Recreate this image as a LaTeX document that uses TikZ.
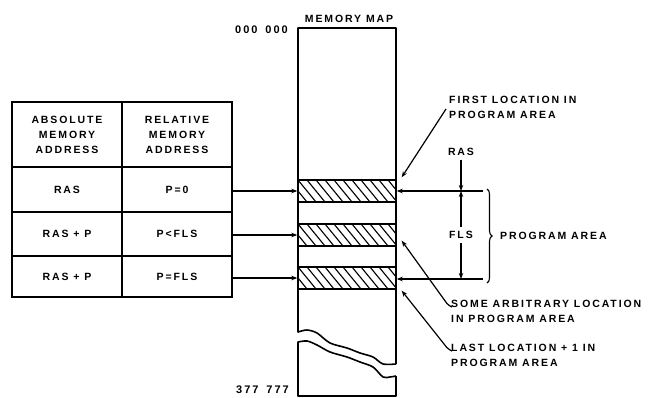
\documentclass[tikz,border=0pt]{standalone}
\usepackage{fontspec}
\setmainfont{Liberation Sans}[LetterSpace=18]
\usetikzlibrary{arrows.meta,decorations.pathreplacing}
\begin{document}
\begin{tikzpicture}[x=1pt,y=-1pt,
  font=\fontsize{10.5}{15}\selectfont\bfseries,
  mapline/.style={line width=1.6pt, line join=round},
  cell/.style={draw, line width=1.3pt, minimum width=110pt, inner sep=0pt, align=center},
  band/.style={draw, line width=1.4pt, minimum width=98pt, minimum height=22pt, inner sep=0pt},
  conn/.style={line width=1.2pt, -{Stealth[length=6pt,width=4.5pt]}},
  hatch/.style={line width=1.1pt},
  lbl/.style={align=left, anchor=north west, inner sep=0pt},
  addr/.style={anchor=east, inner sep=0pt, font=\fontsize{11}{13}\selectfont\bfseries},
  dimlbl/.style={inner sep=4pt},
  bracestyle/.style={line width=1.1pt, decorate, decoration={brace, amplitude=5pt}}]
\useasboundingbox (0,0) rectangle (655,398);
% table
\node[cell, minimum height=65pt] (h1) at (67,134.5) {ABSOLUTE\\MEMORY\\ADDRESS};
\node[cell, minimum height=65pt] (h2) at (177,134.5) {RELATIVE\\MEMORY\\ADDRESS};
\node[cell, minimum height=45pt] (r1c1) at (67,189.5) {RAS};
\node[cell, minimum height=45pt] (r1c2) at (177,189.5) {P=0};
\node[cell, minimum height=44pt] (r2c1) at (67,234) {RAS + P};
\node[cell, minimum height=44pt] (r2c2) at (177,234) {P<FLS};
\node[cell, minimum height=41pt] (r3c1) at (67,276.5) {RAS + P};
\node[cell, minimum height=41pt] (r3c2) at (177,276.5) {P=FLS};
% memory map
\node (title) at (349,19) {MEMORY MAP};
\node[addr] (top) at (288,30) {000\hspace{8pt}000};
\node[addr] (bot) at (289,390) {377\hspace{8pt}777};
\draw[mapline] (396,364) -- (396,28) -- (298,28) -- (298,332)
  -- plot[smooth] coordinates {(298,332) (307,330) (317,333) (330,343) (347,348) (360,353) (373,357) (383,364) (396,364)};
\draw[mapline] (396,376) -- (396,396) -- (298,396) -- (298,342)
  -- plot[smooth] coordinates {(298,342) (307,341) (317,345) (330,352) (347,357) (360,362) (373,367) (383,377) (390,377) (396,376)};
% bands
\foreach \n/\yc in {b1/191, b2/235, b3/278} {
  \node[band] (\n) at (347,\yc) {};
  \begin{scope}
    \clip (\n.south west) rectangle (\n.north east);
    \foreach \x in {262,271,...,400} \draw[hatch] (\x,\yc-11) -- ++(18,22);
  \end{scope}
  \draw[line width=1.4pt] (\n.south west) rectangle (\n.north east);
}
% arrows from table
\draw[conn] (b1.west -| r1c2.east) -- (b1.west);
\draw[conn] (b2.west -| r2c2.east) -- (b2.west);
\draw[conn] (b3.west -| r3c2.east) -- (b3.west);
% right side
\coordinate (ra) at (483,191);
\coordinate (rb) at (483,279);
\draw[conn] (ra) -- (ra -| b1.east);
\draw[conn] (rb) -- (rb -| b3.east);
\node[dimlbl] (ras) at (461,152) {RAS};
\node[dimlbl] (fls) at (461,235) {FLS};
\draw[conn] (ras.south) -- (ras.south |- ra);
\draw[conn] (fls.north) -- (fls.north |- ra);
\draw[conn] (fls.south) -- (fls.south |- rb);
\draw[bracestyle] (487,189) -- (487,283);
\node[anchor=west, inner sep=0pt] (pa) at (500,236) {PROGRAM AREA};
% labels
\node[lbl] (first) at (449,96) {FIRST LOCATION IN\\PROGRAM AREA};
\node[lbl] (some) at (451,300) {SOME ARBITRARY LOCATION\\IN PROGRAM AREA};
\node[lbl] (last) at (451,344) {LAST LOCATION + 1 IN\\PROGRAM AREA};
\coordinate (f1) at (446,109);
\coordinate (s1) at (452,307);
\coordinate (l1) at (452,351);
\draw[conn] (f1) -- ([shift={(5,-2)}]b1.north east);
\draw[conn, rounded corners=2pt] (s1) -- ++(-4,-2) -- ([shift={(5,-6)}]b2.south east);
\draw[conn, rounded corners=2pt] (l1) -- ++(-4,-2) -- ([shift={(5,1)}]b3.south east);
\end{tikzpicture}
\end{document}
